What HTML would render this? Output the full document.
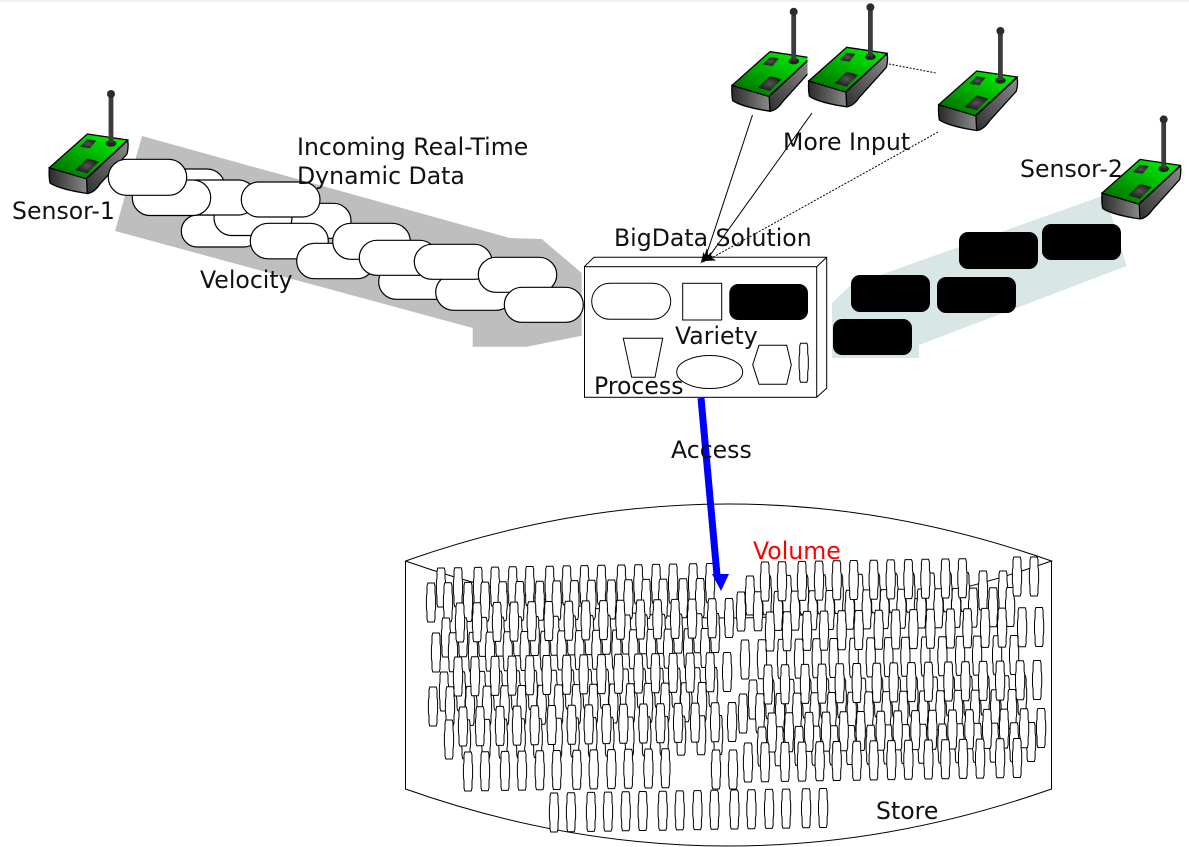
<!DOCTYPE html>
<html><head><meta charset="utf-8"><title>Big Data</title>
<style>
html,body{margin:0;padding:0;background:#fff}
svg{display:block}
text{font-family:"DejaVu Sans",sans-serif;font-size:23.6px;fill:#111}
.cap rect{fill:#fff;stroke:#000;stroke-width:1.2}
.blk rect{fill:#000}
</style></head><body>
<svg width="1189" height="847" viewBox="0 0 1189 847" xmlns="http://www.w3.org/2000/svg">
<defs>
<linearGradient id="gg" x1="0" y1="1" x2="1" y2="0"><stop offset="0" stop-color="#006000"/><stop offset=".5" stop-color="#00b000"/><stop offset=".85" stop-color="#00e800"/></linearGradient>
<linearGradient id="gf" x1="0" y1="0" x2="1" y2="0"><stop offset="0" stop-color="#2a2a2a"/><stop offset="1" stop-color="#8a8a8a"/></linearGradient>
<linearGradient id="gr" x1="0" y1="1" x2="1" y2="0"><stop offset="0" stop-color="#303030"/><stop offset="1" stop-color="#8c8c8c"/></linearGradient>
<radialGradient id="gw"><stop offset="0" stop-color="#555"/><stop offset="1" stop-color="#1c1c1c"/></radialGradient>
<g id="s">
<path d="M49.3 167.7 L87 178.7 L87.3 193.5 C70 191 56 187 50 183 C49 178 49 172 49.3 167.7Z" fill="url(#gf)" stroke="#000" stroke-width="1.3"/>
<path d="M86.5 178.7 L127.7 140.5 C128.5 145 128 150 127 154 L100 184 C96 190 92 193 87.3 193.5Z" fill="url(#gr)" stroke="#000" stroke-width="1.3"/>
<path d="M87.3 134 L127.7 140 L86 178.7 L49.3 167.7Z" fill="url(#gg)" stroke="#000" stroke-width="1.3"/>
<path d="M87.3 139.3 L96 140.7 L90 148.3 L80 146.7Z" fill="url(#gw)"/>
<path d="M87.3 158.3 L99 161.7 L87.3 173.3 L75.3 170Z" fill="url(#gw)"/>
<ellipse cx="111" cy="143.5" rx="5.4" ry="3.2" fill="#222"/>
<rect x="108.6" y="95" width="4.8" height="48" fill="#3c3c3c"/>
<circle cx="111" cy="94" r="4" fill="#2c2c2c"/>
</g>
<path id="t" d="M-3.2 0H3.2L4 3V10L4.6 14V25L4 29V36L3.2 39H-3.2L-4 36V29L-4.6 25V14L-4 10V3Z" fill="#fff" stroke="#000" stroke-width="1"/>
<g id="c"><use href="#t"/><use href="#t" x="17" y="-.3"/><use href="#t" x="37" y="-.6"/><use href="#t" x="54" y="-.9"/></g>
<g id="e"><use href="#c"/><use href="#c" x="71.7" y="-1.2"/><use href="#c" x="143.4" y="-2.4"/></g>
<g id="d"><use href="#e"/><use href="#c" x="215.1" y="-3.6"/></g>
</defs>
<rect width="1189" height="847" fill="#fff"/>
<rect width="1189" height="2" fill="#f0f0f0"/>

<polygon points="142,136 510,238 541.7,239 581.7,273 581.7,335.7 526.7,346.7 472.7,346.7 472.7,328 115,231" fill="#bebebe"/>
<polygon points="1105,195 1126.7,266 919,345 919,358 832,358 832,303 850,285.7" fill="#d8e6e6"/>

<use href="#s"/>
<g class="cap">
<rect x="147" y="169" width="78" height="36" rx="18"/>
<rect x="273" y="203.3" width="78" height="35" rx="17.5"/>
<rect x="181.3" y="215" width="78.4" height="32" rx="16"/>
<rect x="214" y="200" width="78" height="35.5" rx="17.7"/>
<rect x="178" y="180" width="78" height="35" rx="17.5"/>
<rect x="132.3" y="180" width="78.4" height="35.5" rx="17.7"/>
<rect x="108.3" y="159.3" width="78.4" height="36" rx="18"/>
<rect x="241.3" y="182" width="78.7" height="35" rx="17.5"/>
<rect x="250.3" y="223.3" width="78" height="35.5" rx="17.7"/>
<rect x="296.7" y="243.3" width="78" height="35.4" rx="17.7"/>
<rect x="332.7" y="223.3" width="77.6" height="36" rx="18"/>
<rect x="378.7" y="264" width="78" height="35.3" rx="17.6"/>
<rect x="359.3" y="240.3" width="78" height="35" rx="17.5"/>
<rect x="435.7" y="274.3" width="78.3" height="36" rx="18"/>
<rect x="414.3" y="244.3" width="77.7" height="35" rx="17.5"/>
<rect x="478.3" y="257.3" width="78.4" height="35" rx="17.5"/>
<rect x="504.3" y="287.3" width="79" height="35" rx="17.5"/>
</g>

<g class="blk">
<rect x="833" y="319" width="79" height="36" rx="9"/>
<rect x="851" y="275" width="79" height="37" rx="9"/>
<rect x="937" y="277" width="79" height="36" rx="9"/>
<rect x="959" y="232" width="79" height="37" rx="9"/>
<rect x="1042" y="224" width="79" height="36" rx="9"/>
</g>

<use href="#s" x="682.7" y="-82.3"/>
<rect x="807.5" y="40" width="6" height="75" fill="#fff"/>
<use href="#s" x="759.4" y="-86.7"/>
<use href="#s" x="889.4" y="-63"/>
<use href="#s" x="1052.7" y="25.4"/>

<!-- box -->
<path d="M584.3 266.7 L594 257.3 H826.7 V388.3 L816.7 397.3 M816.7 266.7 L826.7 257.3" fill="#fff" stroke="#000"/>
<rect x="584.5" y="266.7" width="232.2" height="130.6" fill="#fff" stroke="#000"/>
<rect x="591.7" y="283.3" width="79" height="36" rx="18" fill="#fff" stroke="#000"/>
<rect x="682.7" y="283.3" width="39" height="36.7" fill="#fff" stroke="#000"/>
<rect x="729.3" y="284" width="78.7" height="36" rx="9" fill="#000"/>
<polygon points="623.3,338.3 662.7,338.3 655,377.3 631.7,377.3" fill="#fff" stroke="#000"/>
<ellipse cx="709.7" cy="372" rx="33" ry="16.5" fill="#fff" stroke="#000"/>
<polygon points="759,345.3 786.7,345.3 791.3,364.7 786.7,384.3 759,384.3 752.7,364.7" fill="#fff" stroke="#000"/>
<use href="#t" x="803.7" y="343.3"/>

<!-- connectors -->
<path d="M752.5 115 L704 262" stroke="#000" fill="none"/>
<path d="M812 113 L706 261" stroke="#000" fill="none"/>
<path d="M938 132 L708 260" stroke="#000" fill="none" stroke-dasharray="2 1.5"/>
<path d="M889 64 L936 73" stroke="#000" fill="none" stroke-dasharray="2 1.5"/>
<polygon points="700.5,264 703.5,252 705,255 708,253" fill="#000"/>
<polygon points="702,263 707,248 708,255 713,256" fill="#000"/>
<polygon points="703,261 711,252 711,257 716,260.5" fill="#000"/>

<!-- store -->
<path d="M405.5 561 Q728 333 1051.5 561 V789 Q728 903 405.5 789Z" fill="#fff" stroke="none"/>
<path d="M405.5 561 Q728 447 1051.5 561 Q728 675 405.5 561 M405.5 561 V789 Q728 903 1051.5 789 V561" fill="none" stroke="#000"/>

<!-- tiles left -->
<use href="#d" x="441" y="568"/>
<use href="#d" x="431" y="583"/>
<use href="#d" x="446" y="618"/>
<use href="#d" x="436" y="633"/>
<use href="#d" x="460" y="603"/>
<use href="#d" x="444" y="672"/>
<use href="#d" x="433" y="687"/>
<use href="#d" x="458" y="657"/>
<use href="#d" x="449" y="720"/>
<use href="#d" x="463" y="707"/>
<use href="#e" x="468" y="752"/>
<use href="#t" x="716" y="750"/>
<use href="#t" x="733" y="750"/>

<!-- tiles right -->
<use href="#e" x="750" y="576"/>
<use href="#t" x="965" y="572.5"/>
<use href="#t" x="983" y="571"/>
<use href="#t" x="1003" y="571"/>
<use href="#d" x="741" y="592"/>
<use href="#e" x="765" y="562"/>
<use href="#t" x="1017" y="557"/>
<use href="#t" x="1034" y="557"/>
<use href="#d" x="745" y="640"/>
<use href="#d" x="770" y="612"/>
<use href="#d" x="753" y="680"/>
<use href="#d" x="743" y="694"/>
<use href="#d" x="768" y="665"/>
<use href="#d" x="762" y="727"/>
<use href="#d" x="772" y="713"/>
<use href="#d" x="748" y="743"/>
<use href="#d" x="554" y="793"/>

<!-- blue arrow -->
<path d="M701 398 L717 575" stroke="#0000ff" stroke-width="7" fill="none"/>
<polygon points="712,574 729,574 721,591" fill="#0000ff"/>

<!-- labels -->
<text x="297" y="155">Incoming Real-Time</text>
<text x="297" y="184">Dynamic Data</text>
<text x="12" y="219">Sensor-1</text>
<text x="200" y="288">Velocity</text>
<text x="783" y="150">More Input</text>
<text x="1020" y="177">Sensor-2</text>
<text x="614" y="246">BigData Solution</text>
<text x="675" y="344">Variety</text>
<text x="594" y="394">Process</text>
<text x="671" y="458">Access</text>
<text x="753" y="559" style="fill:#ff0000">Volume</text>
<text x="876" y="819">Store</text>
</svg>
</body></html>
